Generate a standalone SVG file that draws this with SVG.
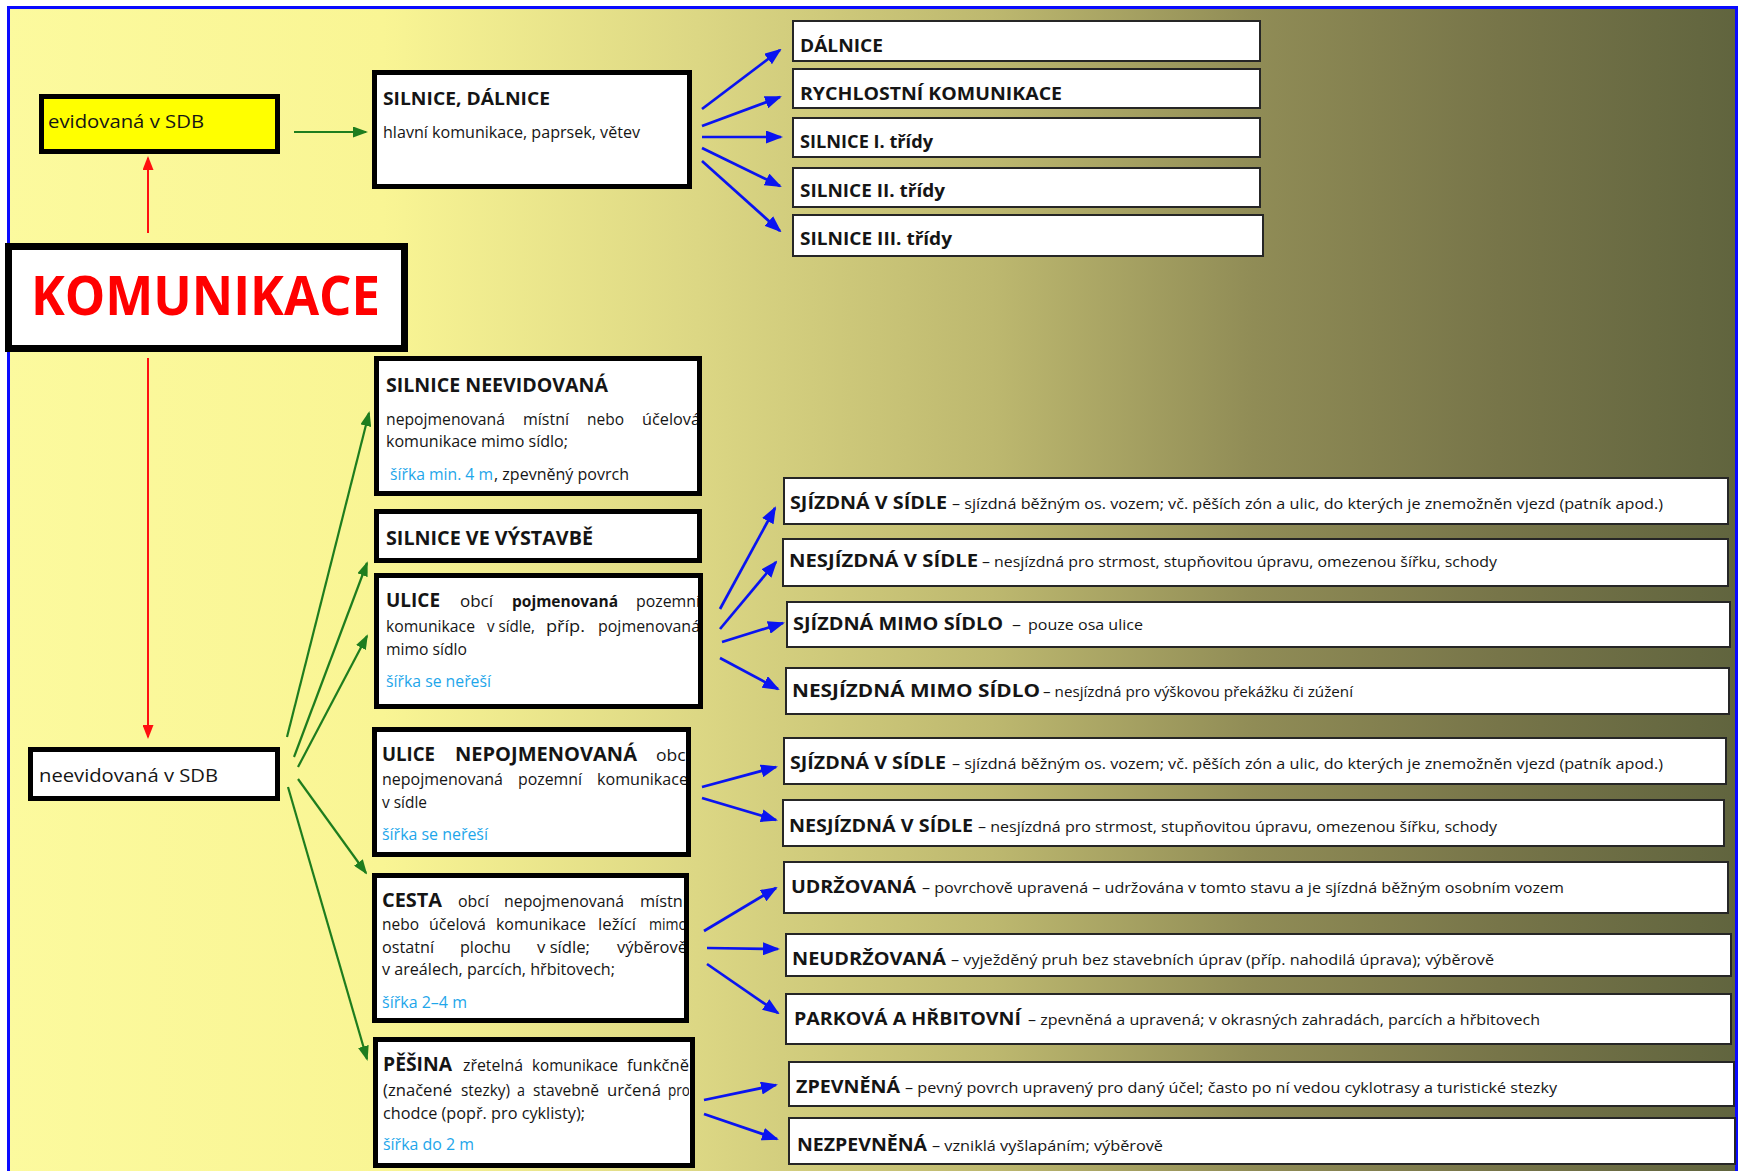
<svg xmlns="http://www.w3.org/2000/svg" width="1742" height="1171" viewBox="0 0 1742 1171">
<style>
.t{font-family:"Open Sans","Noto Sans","Liberation Sans",sans-serif;fill:#151515}
.h{font-weight:700}
.b{font-size:15.5px}
.d{font-size:15px}
.rh{font-size:18px;font-weight:700}
.th{font-size:17px;font-weight:700}
.lb{fill:#1ea6ea}
.thick{fill:#fff;stroke:#000;stroke-width:5}
.thin{fill:#fff;stroke:#262626;stroke-width:2}
.ab{stroke:#0a14f0;stroke-width:2.7;fill:none}
.ag{stroke:#1e7d1e;stroke-width:2.2;fill:none}
.ar{stroke:#ff1010;stroke-width:2;fill:none}
</style>
<defs>
<linearGradient id="bg" x1="0" y1="0" x2="1742" y2="0" gradientUnits="userSpaceOnUse">
<stop offset="0" stop-color="#fcfa9e"/>
<stop offset="0.22" stop-color="#f9f594"/>
<stop offset="0.40" stop-color="#dcd784"/>
<stop offset="0.57" stop-color="#bdb86f"/>
<stop offset="0.72" stop-color="#908c56"/>
<stop offset="0.86" stop-color="#777549"/>
<stop offset="1" stop-color="#60643e"/>
</linearGradient>
<marker id="mb" markerUnits="userSpaceOnUse" markerWidth="17" markerHeight="13" refX="15" refY="6.5" orient="auto"><path d="M0,0 L17,6.5 L0,13 z" fill="#0a14f0"/></marker>
<marker id="mg" markerUnits="userSpaceOnUse" markerWidth="15" markerHeight="11" refX="13" refY="5.5" orient="auto"><path d="M0,0 L15,5.5 L0,11 z" fill="#1e7d1e"/></marker>
<marker id="mr" markerUnits="userSpaceOnUse" markerWidth="14" markerHeight="11" refX="12" refY="5.5" orient="auto"><path d="M0,0 L14,5.5 L0,11 z" fill="#ff1010"/></marker>
<clipPath id="c1"><rect x="379" y="361" width="318" height="130"/></clipPath>
<clipPath id="c3"><rect x="379" y="578" width="319" height="126"/></clipPath>
<clipPath id="c4"><rect x="377" y="732" width="309" height="120"/></clipPath>
<clipPath id="c5"><rect x="377" y="878" width="307" height="140"/></clipPath>
<clipPath id="c6"><rect x="378" y="1042" width="311" height="120"/></clipPath>
</defs>

<rect x="0" y="0" width="1742" height="1171" fill="#ffffff"/>
<rect x="8.5" y="7.5" width="1728" height="1170" fill="url(#bg)" stroke="#0a0aff" stroke-width="3"/>

<g id="connectors">
<line class="ar" x1="148" y1="233" x2="148" y2="158" marker-end="url(#mr)"/>
<line class="ar" x1="148" y1="358" x2="148" y2="737" marker-end="url(#mr)"/>
<line class="ag" x1="294" y1="132" x2="366" y2="132" marker-end="url(#mg)"/>
<line class="ag" x1="287" y1="737" x2="369" y2="413" marker-end="url(#mg)"/>
<line class="ag" x1="294" y1="757" x2="367" y2="563" marker-end="url(#mg)"/>
<line class="ag" x1="298" y1="767" x2="367" y2="636" marker-end="url(#mg)"/>
<line class="ag" x1="298" y1="779" x2="366" y2="873" marker-end="url(#mg)"/>
<line class="ag" x1="288" y1="787" x2="367" y2="1059" marker-end="url(#mg)"/>
<line class="ab" x1="702" y1="109" x2="780" y2="50" marker-end="url(#mb)"/>
<line class="ab" x1="702" y1="126" x2="780" y2="97" marker-end="url(#mb)"/>
<line class="ab" x1="702" y1="137" x2="781" y2="137" marker-end="url(#mb)"/>
<line class="ab" x1="702" y1="148" x2="780" y2="186" marker-end="url(#mb)"/>
<line class="ab" x1="702" y1="161" x2="780" y2="231" marker-end="url(#mb)"/>
<line class="ab" x1="720" y1="609" x2="775" y2="508" marker-end="url(#mb)"/>
<line class="ab" x1="720" y1="629" x2="776" y2="562" marker-end="url(#mb)"/>
<line class="ab" x1="722" y1="642" x2="783" y2="623" marker-end="url(#mb)"/>
<line class="ab" x1="720" y1="658" x2="778" y2="689" marker-end="url(#mb)"/>
<line class="ab" x1="702" y1="787" x2="776" y2="767" marker-end="url(#mb)"/>
<line class="ab" x1="702" y1="798" x2="776" y2="820" marker-end="url(#mb)"/>
<line class="ab" x1="704" y1="931" x2="776" y2="888" marker-end="url(#mb)"/>
<line class="ab" x1="707" y1="948" x2="778" y2="949" marker-end="url(#mb)"/>
<line class="ab" x1="707" y1="964" x2="778" y2="1013" marker-end="url(#mb)"/>
<line class="ab" x1="704" y1="1100" x2="776" y2="1085" marker-end="url(#mb)"/>
<line class="ab" x1="704" y1="1114" x2="777" y2="1139" marker-end="url(#mb)"/>
</g>

<g id="evidovana">
<rect x="41.5" y="96.5" width="236" height="55" fill="#ffff00" stroke="#000" stroke-width="5"/>
<text class="t" x="48" y="128" font-size="18.5" textLength="156" lengthAdjust="spacingAndGlyphs">evidovaná v SDB</text>
</g>

<g id="komunikace">
<rect x="8.5" y="246.5" width="396" height="102" fill="#fff" stroke="#000" stroke-width="7"/>
<text class="t h" x="31" y="315" font-size="54" style="fill:#ff0000" textLength="349" lengthAdjust="spacingAndGlyphs">KOMUNIKACE</text>
</g>

<g id="neevidovana">
<rect x="30.5" y="749.5" width="247" height="49" class="thick"/>
<text class="t" x="39" y="782" font-size="18.5" textLength="179" lengthAdjust="spacingAndGlyphs">neevidovaná v SDB</text>
</g>

<g id="silnice-dalnice">
<rect x="374.5" y="72.5" width="315" height="114" class="thick"/>
<text class="t th" x="383" y="105" textLength="167" lengthAdjust="spacingAndGlyphs">SILNICE, DÁLNICE</text>
<text class="t b" x="383" y="138" textLength="257" lengthAdjust="spacingAndGlyphs">hlavní komunikace, paprsek, větev</text>
</g>

<g id="silnice-neevidovana">
<rect x="376.5" y="358.5" width="323" height="135" class="thick"/>
<g clip-path="url(#c1)">
<text class="t h" x="386" y="392" font-size="19" textLength="222" lengthAdjust="spacingAndGlyphs">SILNICE NEEVIDOVANÁ</text>
<text class="t b" x="386" y="425" textLength="119" lengthAdjust="spacingAndGlyphs">nepojmenovaná</text>
<text class="t b" x="523" y="425" textLength="46" lengthAdjust="spacingAndGlyphs">místní</text>
<text class="t b" x="587" y="425" textLength="37" lengthAdjust="spacingAndGlyphs">nebo</text>
<text class="t b" x="642" y="425" textLength="58" lengthAdjust="spacingAndGlyphs">účelová</text>
<text class="t b" x="386" y="447" textLength="182" lengthAdjust="spacingAndGlyphs">komunikace mimo sídlo;</text>
<text class="t b lb" x="390" y="480" textLength="103" lengthAdjust="spacingAndGlyphs">šířka min. 4 m</text>
<text class="t b" x="494" y="480" textLength="135" lengthAdjust="spacingAndGlyphs">, zpevněný povrch</text>
</g>
</g>

<g id="silnice-ve-vystavbe">
<rect x="376.5" y="511.5" width="323" height="49" class="thick"/>
<text class="t h" x="386" y="545" font-size="19" textLength="207" lengthAdjust="spacingAndGlyphs">SILNICE VE VÝSTAVBĚ</text>
</g>

<g id="ulice">
<rect x="376.5" y="575.5" width="324" height="131" class="thick"/>
<g clip-path="url(#c3)">
<text class="t h" x="386" y="607" font-size="19" textLength="54" lengthAdjust="spacingAndGlyphs">ULICE</text>
<text class="t b" x="460" y="607" textLength="33" lengthAdjust="spacingAndGlyphs">obcí</text>
<text class="t b h" x="512" y="607" textLength="106" lengthAdjust="spacingAndGlyphs">pojmenovaná</text>
<text class="t b" x="636" y="607" textLength="64" lengthAdjust="spacingAndGlyphs">pozemní</text>
<text class="t b" x="386" y="632" textLength="89" lengthAdjust="spacingAndGlyphs">komunikace</text>
<text class="t b" x="487" y="632" textLength="48" lengthAdjust="spacingAndGlyphs">v sídle,</text>
<text class="t b" x="546" y="632" textLength="39" lengthAdjust="spacingAndGlyphs">příp.</text>
<text class="t b" x="598" y="632" textLength="102" lengthAdjust="spacingAndGlyphs">pojmenovaná</text>
<text class="t b" x="386" y="655" textLength="81" lengthAdjust="spacingAndGlyphs">mimo sídlo</text>
<text class="t b lb" x="386" y="687" textLength="105" lengthAdjust="spacingAndGlyphs">šířka se neřeší</text>
</g>
</g>

<g id="ulice-nepojmenovana">
<rect x="374.5" y="729.5" width="314" height="125" class="thick"/>
<g clip-path="url(#c4)">
<text class="t h" x="382" y="761" font-size="19" textLength="53" lengthAdjust="spacingAndGlyphs">ULICE</text>
<text class="t h" x="455" y="761" font-size="19" textLength="182" lengthAdjust="spacingAndGlyphs">NEPOJMENOVANÁ</text>
<text class="t b" x="656" y="761" textLength="34" lengthAdjust="spacingAndGlyphs">obcí</text>
<text class="t b" x="382" y="785" textLength="121" lengthAdjust="spacingAndGlyphs">nepojmenovaná</text>
<text class="t b" x="518" y="785" textLength="64" lengthAdjust="spacingAndGlyphs">pozemní</text>
<text class="t b" x="597" y="785" textLength="91" lengthAdjust="spacingAndGlyphs">komunikace</text>
<text class="t b" x="382" y="808" textLength="45" lengthAdjust="spacingAndGlyphs">v sídle</text>
<text class="t b lb" x="382" y="840" textLength="106" lengthAdjust="spacingAndGlyphs">šířka se neřeší</text>
</g>
</g>

<g id="cesta">
<rect x="374.5" y="875.5" width="312" height="145" class="thick"/>
<g clip-path="url(#c5)">
<text class="t h" x="382" y="907" font-size="19" textLength="60" lengthAdjust="spacingAndGlyphs">CESTA</text>
<text class="t b" x="458" y="907" textLength="31" lengthAdjust="spacingAndGlyphs">obcí</text>
<text class="t b" x="504" y="907" textLength="120" lengthAdjust="spacingAndGlyphs">nepojmenovaná</text>
<text class="t b" x="640" y="907" textLength="47" lengthAdjust="spacingAndGlyphs">místní</text>
<text class="t b" x="382" y="930" textLength="37" lengthAdjust="spacingAndGlyphs">nebo</text>
<text class="t b" x="429" y="930" textLength="57" lengthAdjust="spacingAndGlyphs">účelová</text>
<text class="t b" x="496" y="930" textLength="90" lengthAdjust="spacingAndGlyphs">komunikace</text>
<text class="t b" x="598" y="930" textLength="38" lengthAdjust="spacingAndGlyphs">ležící</text>
<text class="t b" x="649" y="930" textLength="38" lengthAdjust="spacingAndGlyphs">mimo</text>
<text class="t b" x="382" y="953" textLength="52" lengthAdjust="spacingAndGlyphs">ostatní</text>
<text class="t b" x="460" y="953" textLength="51" lengthAdjust="spacingAndGlyphs">plochu</text>
<text class="t b" x="537" y="953" textLength="53" lengthAdjust="spacingAndGlyphs">v sídle;</text>
<text class="t b" x="617" y="953" textLength="70" lengthAdjust="spacingAndGlyphs">výběrově</text>
<text class="t b" x="382" y="975" textLength="233" lengthAdjust="spacingAndGlyphs">v areálech, parcích, hřbitovech;</text>
<text class="t b lb" x="382" y="1008" textLength="85" lengthAdjust="spacingAndGlyphs">šířka 2–4 m</text>
</g>
</g>

<g id="pesina">
<rect x="375.5" y="1039.5" width="317" height="126" class="thick"/>
<g clip-path="url(#c6)">
<text class="t h" x="383" y="1071" font-size="19" textLength="69" lengthAdjust="spacingAndGlyphs">PĚŠINA</text>
<text class="t b" x="463" y="1071" textLength="60" lengthAdjust="spacingAndGlyphs">zřetelná</text>
<text class="t b" x="532" y="1071" textLength="86" lengthAdjust="spacingAndGlyphs">komunikace</text>
<text class="t b" x="627" y="1071" textLength="62" lengthAdjust="spacingAndGlyphs">funkčně</text>
<text class="t b" x="383" y="1096" textLength="69" lengthAdjust="spacingAndGlyphs">(značené</text>
<text class="t b" x="461" y="1096" textLength="49" lengthAdjust="spacingAndGlyphs">stezky)</text>
<text class="t b" x="517" y="1096" textLength="8" lengthAdjust="spacingAndGlyphs">a</text>
<text class="t b" x="533" y="1096" textLength="66" lengthAdjust="spacingAndGlyphs">stavebně</text>
<text class="t b" x="607" y="1096" textLength="54" lengthAdjust="spacingAndGlyphs">určená</text>
<text class="t b" x="668" y="1096" textLength="22" lengthAdjust="spacingAndGlyphs">pro</text>
<text class="t b" x="383" y="1119" textLength="202" lengthAdjust="spacingAndGlyphs">chodce (popř. pro cyklisty);</text>
<text class="t b lb" x="383" y="1150" textLength="91" lengthAdjust="spacingAndGlyphs">šířka do 2 m</text>
</g>
</g>

<g id="dalnice">
<rect x="793" y="21" width="467" height="40" class="thin"/>
<text class="t th" x="800" y="52" textLength="83" lengthAdjust="spacingAndGlyphs">DÁLNICE</text>
</g>
<g id="rychlostni-komunikace">
<rect x="793" y="69" width="467" height="39" class="thin"/>
<text class="t th" x="800" y="100" textLength="262" lengthAdjust="spacingAndGlyphs">RYCHLOSTNÍ KOMUNIKACE</text>
</g>
<g id="silnice-1">
<rect x="793" y="118" width="467" height="39" class="thin"/>
<text class="t th" x="800" y="148" textLength="133" lengthAdjust="spacingAndGlyphs">SILNICE I. třídy</text>
</g>
<g id="silnice-2">
<rect x="793" y="168" width="467" height="39" class="thin"/>
<text class="t th" x="800" y="197" textLength="145" lengthAdjust="spacingAndGlyphs">SILNICE II. třídy</text>
</g>
<g id="silnice-3">
<rect x="793" y="215" width="470" height="41" class="thin"/>
<text class="t th" x="800" y="245" textLength="152" lengthAdjust="spacingAndGlyphs">SILNICE III. třídy</text>
</g>

<g id="ulice-sjizdna-v-sidle">
<rect x="784" y="478" width="944" height="46" class="thin"/>
<text class="t rh" x="790" y="509" textLength="157" lengthAdjust="spacingAndGlyphs">SJÍZDNÁ V SÍDLE</text>
<text class="t d" x="952" y="509" textLength="711" lengthAdjust="spacingAndGlyphs">– sjízdná běžným os. vozem; vč. pěších zón a ulic, do kterých je znemožněn vjezd (patník apod.)</text>
</g>
<g id="ulice-nesjizdna-v-sidle">
<rect x="783" y="539" width="945" height="47" class="thin"/>
<text class="t rh" x="789" y="567" textLength="189" lengthAdjust="spacingAndGlyphs">NESJÍZDNÁ V SÍDLE</text>
<text class="t d" x="982" y="567" textLength="515" lengthAdjust="spacingAndGlyphs">– nesjízdná pro strmost, stupňovitou úpravu, omezenou šířku, schody</text>
</g>
<g id="ulice-sjizdna-mimo-sidlo">
<rect x="787" y="602" width="943" height="45" class="thin"/>
<text class="t rh" x="793" y="630" textLength="210" lengthAdjust="spacingAndGlyphs">SJÍZDNÁ MIMO SÍDLO</text>
<text class="t d" x="1012" y="630" textLength="9" lengthAdjust="spacingAndGlyphs">–</text>
<text class="t d" x="1028" y="630" textLength="115" lengthAdjust="spacingAndGlyphs">pouze osa ulice</text>
</g>
<g id="ulice-nesjizdna-mimo-sidlo">
<rect x="786" y="668" width="943" height="46" class="thin"/>
<text class="t rh" x="792" y="697" textLength="248" lengthAdjust="spacingAndGlyphs">NESJÍZDNÁ MIMO SÍDLO</text>
<text class="t d" x="1043" y="697" textLength="310" lengthAdjust="spacingAndGlyphs">– nesjízdná pro výškovou překážku či zúžení</text>
</g>

<g id="ulnep-sjizdna-v-sidle">
<rect x="784" y="738" width="942" height="46" class="thin"/>
<text class="t rh" x="790" y="769" textLength="156" lengthAdjust="spacingAndGlyphs">SJÍZDNÁ V SÍDLE</text>
<text class="t d" x="952" y="769" textLength="711" lengthAdjust="spacingAndGlyphs">– sjízdná běžným os. vozem; vč. pěších zón a ulic, do kterých je znemožněn vjezd (patník apod.)</text>
</g>
<g id="ulnep-nesjizdna-v-sidle">
<rect x="783" y="800" width="941" height="46" class="thin"/>
<text class="t rh" x="789" y="832" textLength="184" lengthAdjust="spacingAndGlyphs">NESJÍZDNÁ V SÍDLE</text>
<text class="t d" x="978" y="832" textLength="519" lengthAdjust="spacingAndGlyphs">– nesjízdná pro strmost, stupňovitou úpravu, omezenou šířku, schody</text>
</g>
<g id="udrzovana">
<rect x="784" y="862" width="944" height="51" class="thin"/>
<text class="t rh" x="791" y="893" textLength="125" lengthAdjust="spacingAndGlyphs">UDRŽOVANÁ</text>
<text class="t d" x="922" y="893" textLength="642" lengthAdjust="spacingAndGlyphs">– povrchově upravená – udržována v tomto stavu a je sjízdná běžným osobním vozem</text>
</g>
<g id="neudrzovana">
<rect x="786" y="934" width="945" height="42" class="thin"/>
<text class="t rh" x="792" y="965" textLength="154" lengthAdjust="spacingAndGlyphs">NEUDRŽOVANÁ</text>
<text class="t d" x="951" y="965" textLength="543" lengthAdjust="spacingAndGlyphs">– vyježděný pruh bez stavebních úprav (příp. nahodilá úprava); výběrově</text>
</g>
<g id="parkova-a-hrbitovni">
<rect x="786" y="994" width="945" height="50" class="thin"/>
<text class="t rh" x="794" y="1025" textLength="227" lengthAdjust="spacingAndGlyphs">PARKOVÁ A HŘBITOVNÍ</text>
<text class="t d" x="1028" y="1025" textLength="512" lengthAdjust="spacingAndGlyphs">– zpevněná a upravená; v okrasných zahradách, parcích a hřbitovech</text>
</g>
<g id="zpevnena">
<rect x="789" y="1062" width="945" height="44" class="thin"/>
<text class="t rh" x="796" y="1093" textLength="104" lengthAdjust="spacingAndGlyphs">ZPEVNĚNÁ</text>
<text class="t d" x="905" y="1093" textLength="652" lengthAdjust="spacingAndGlyphs">– pevný povrch upravený pro daný účel; často po ní vedou cyklotrasy a turistické stezky</text>
</g>
<g id="nezpevnena">
<rect x="789" y="1118" width="946" height="46" class="thin"/>
<text class="t rh" x="797" y="1151" textLength="130" lengthAdjust="spacingAndGlyphs">NEZPEVNĚNÁ</text>
<text class="t d" x="932" y="1151" textLength="231" lengthAdjust="spacingAndGlyphs">– vzniklá vyšlapáním; výběrově</text>
</g>
</svg>
